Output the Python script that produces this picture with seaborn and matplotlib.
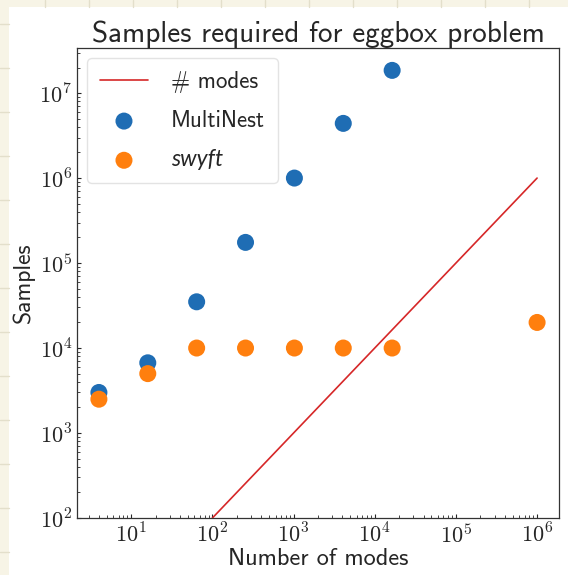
import numpy as np
import pandas as pd
import matplotlib
matplotlib.use("Agg")
import matplotlib.pyplot as plt
from matplotlib.lines import Line2D
from matplotlib.patches import Rectangle
from matplotlib.ticker import FuncFormatter
import seaborn as sns

# dados
n_modos = [4, 16, 64, 256, 1024, 4096, 16384]
amostras_multinest = [3000, 6700, 35000, 175000, 1.0e6, 4.4e6, 1.85e7]
n_modos_swyft = [4, 16, 64, 256, 1024, 4096, 16384, 1e6]
amostras_swyft = [2500, 5000, 1e4, 1e4, 1e4, 1e4, 1e4, 2e4]
linha_modos = [1e2, 1e6]

sns.set_style("white")
plt.rcParams["font.family"] = ["cmss10", "DejaVu Sans"]
plt.rcParams["mathtext.fontset"] = "cm"
plt.rcParams["axes.unicode_minus"] = False

fig = plt.figure(figsize=(5.68, 5.75), dpi=100, facecolor="#f7f4e6")
# fundo tipo papel quadriculado
fig.add_artist(Rectangle((9 / 568, 0), 1, 1 - 7 / 575, transform=fig.transFigure,
                         facecolor="white", edgecolor="none", zorder=-5))
for xp in np.arange(45, 568, 44):
    fig.add_artist(Line2D([xp / 568, xp / 568], [1 - 7 / 575, 1], transform=fig.transFigure,
                          color="#e3dfcb", lw=1, zorder=-4))
for yp in np.arange(24, 575, 44):
    fig.add_artist(Line2D([0, 9 / 568], [1 - yp / 575, 1 - yp / 575], transform=fig.transFigure,
                          color="#e3dfcb", lw=1, zorder=-4))

ax = fig.add_axes([77 / 568, 57 / 575, 482 / 568, 470 / 575])

df_linha = pd.DataFrame({"x": linha_modos, "y": linha_modos})
df_mn = pd.DataFrame({"x": n_modos, "y": amostras_multinest})
df_sw = pd.DataFrame({"x": n_modos_swyft, "y": amostras_swyft})

sns.lineplot(data=df_linha, x="x", y="y", ax=ax, color="#d62728", lw=1.2, label="# modes")
sns.scatterplot(data=df_mn, x="x", y="y", ax=ax, color="#1f6db4", s=150, edgecolor="none",
                label="MultiNest")
sns.scatterplot(data=df_sw, x="x", y="y", ax=ax, color="#ff7f0e", s=150, edgecolor="none",
                label="swyft")

ax.set_xscale("log")
ax.set_yscale("log")
ax.set_ylim(bottom=1e2)

# rótulos dos ticks em Computer Modern (serifada)
fmt = FuncFormatter(lambda v, p: r"$10^{%d}$" % round(np.log10(v)))
ax.xaxis.set_major_formatter(fmt)
ax.yaxis.set_major_formatter(fmt)

ax.set_title("Samples required for eggbox problem", fontsize=21, pad=4)
ax.set_xlabel("Number of modes", fontsize=17.5, labelpad=1)
ax.set_ylabel("Samples", fontsize=17, labelpad=3)

for s in ax.spines.values():
    s.set_color("#333333")
    s.set_linewidth(0.9)
ax.tick_params(which="both", direction="in", left=True, bottom=True, labelsize=16)
ax.tick_params(which="major", length=3)
ax.tick_params(which="minor", length=2)

leg = ax.legend(loc="upper left", fontsize=16.5, frameon=True, handlelength=2.1,
                handletextpad=1.0, borderpad=0.55, labelspacing=0.75, borderaxespad=0.45)
leg.get_frame().set_edgecolor("#dddddd")
for t in leg.get_texts():
    if t.get_text() == "swyft":
        t.set_fontfamily(["Lato", "DejaVu Sans"])
        t.set_fontstyle("italic")

fig.savefig("out.png", dpi=100, facecolor=fig.get_facecolor())
